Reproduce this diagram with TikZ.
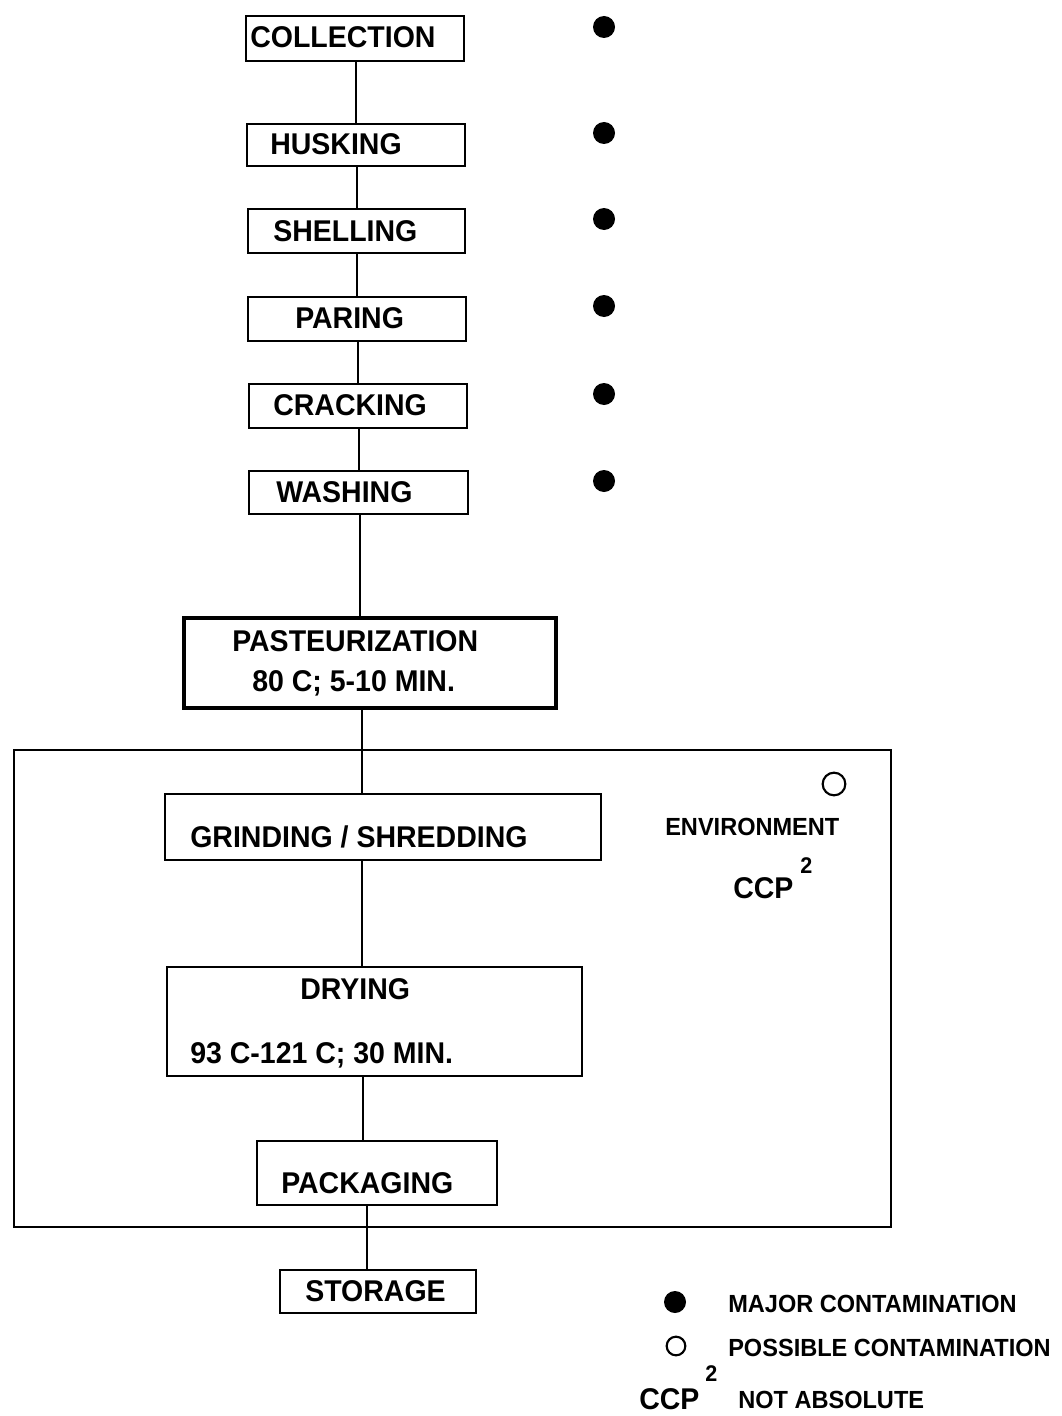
\documentclass[tikz,border=0pt]{standalone}
\usepackage{fontspec}
\setmainfont{Liberation Sans}[FakeStretch=0.95]
\begin{document}
\begin{tikzpicture}[x=0.75pt,y=-0.75pt,
  box/.style={draw, rectangle, line width=2pt, inner sep=0pt},
  conn/.style={line width=2pt},
  txt/.style={anchor=base west, inner sep=0pt, font=\fontsize{22.5}{24}\selectfont\bfseries},
  small/.style={anchor=base west, inner sep=0pt, font=\fontsize{18.6}{20}\selectfont\bfseries},
  sup/.style={anchor=base west, inner sep=0pt, font=\fontsize{17}{19}\selectfont\bfseries},
  dot/.style={circle, fill=black, draw=none, minimum size=16.5pt, inner sep=0pt},
  odot/.style={circle, draw=black, line width=1.6pt, fill=white, inner sep=0pt}]
\useasboundingbox (0,0) rectangle (1062,1416);
\fill[white] (0,0) rectangle (1062,1416);

% environment box
\node[box, line width=1.6pt, minimum width=657.75pt, minimum height=357.75pt] (env) at (452.5,988.5) {};

% process boxes
\node[box, minimum width=163.5pt, minimum height=33.75pt] (collection) at (355,38.5) {};
\node[box, minimum width=163.5pt, minimum height=31.5pt] (husking) at (356,145) {};
\node[box, minimum width=162.75pt, minimum height=33pt] (shelling) at (356.5,231) {};
\node[box, minimum width=163.5pt, minimum height=33pt] (paring) at (357,319) {};
\node[box, minimum width=163.5pt, minimum height=33pt] (cracking) at (358,406) {};
\node[box, minimum width=164.25pt, minimum height=32.25pt] (washing) at (358.5,492.5) {};
\node[box, line width=3.2pt, minimum width=279pt, minimum height=67.5pt] (pasteur) at (370,663) {};
\node[box, minimum width=327pt, minimum height=49.5pt] (grinding) at (383,827) {};
\node[box, minimum width=311.25pt, minimum height=81.75pt] (drying) at (374.5,1021.5) {};
\node[box, minimum width=180pt, minimum height=48pt] (packaging) at (377,1173) {};
\node[box, minimum width=147pt, minimum height=32.25pt] (storage) at (378,1291.5) {};

% connector x positions
\coordinate (x1) at (356,0);
\coordinate (x2) at (357,0);
\coordinate (x3) at (357,0);
\coordinate (x4) at (358,0);
\coordinate (x5) at (359,0);
\coordinate (x6) at (360,0);
\coordinate (x7) at (362,0);
\coordinate (x8) at (362,0);
\coordinate (x9) at (363,0);
\coordinate (x10) at (367,0);

\draw[conn] (collection.south -| x1) -- (husking.north -| x1);
\draw[conn] (husking.south -| x2) -- (shelling.north -| x2);
\draw[conn] (shelling.south -| x3) -- (paring.north -| x3);
\draw[conn] (paring.south -| x4) -- (cracking.north -| x4);
\draw[conn] (cracking.south -| x5) -- (washing.north -| x5);
\draw[conn] (washing.south -| x6) -- (pasteur.north -| x6);
\draw[conn] (pasteur.south -| x7) -- (grinding.north -| x7);
\draw[conn] (grinding.south -| x8) -- (drying.north -| x8);
\draw[conn] (drying.south -| x9) -- (packaging.north -| x9);
\draw[conn] (packaging.south -| x10) -- (storage.north -| x10);

% labels
\node[txt] (tcol) at (250,48) {COLLECTION};
\node[txt] (thus) at (270,155) {HUSKING};
\node[txt] (tshe) at (273,241) {SHELLING};
\node[txt] (tpar) at (295,328) {PARING};
\node[txt] (tcra) at (273,415) {CRACKING};
\node[txt] (twas) at (276,502) {WASHING};
\node[txt] (tpas1) at (232,651) {PASTEURIZATION};
\node[txt] (tpas2) at (252,691) {80 C; 5-10 MIN.};
\node[txt] (tgri) at (190,847) {GRINDING / SHREDDING};
\node[txt] (tdry1) at (300,999) {DRYING};
\node[txt] (tdry2) at (190,1063) {93 C-121 C; 30 MIN.};
\node[txt] (tpac) at (281,1193) {PACKAGING};
\node[txt] (tsto) at (305,1301) {STORAGE};

% contamination markers
\node[dot] (d1) at (604,27) {};
\node[dot] (d2) at (604,133) {};
\node[dot] (d3) at (604,219) {};
\node[dot] (d4) at (604,306) {};
\node[dot] (d5) at (604,394) {};
\node[dot] (d6) at (604,481) {};
\node[odot, minimum size=17pt] (o1) at (834,784) {};

\node[small] (tenv) at (665,835) {ENVIRONMENT};
\node[txt] (tccp) at (733,898) {CCP};
\node[sup] (tccp2) at (800,873) {2};

% legend
\node[dot] (ld1) at (675,1302) {};
\node[odot, minimum size=14pt] (lo1) at (676,1346) {};
\node[small] (lmaj) at (728,1312) {MAJOR CONTAMINATION};
\node[small] (lpos) at (728,1356) {POSSIBLE CONTAMINATION};
\node[txt] (lccp) at (639,1409) {CCP};
\node[sup] (lccp2) at (705,1381) {2};
\node[small] (lnot) at (738,1408) {NOT ABSOLUTE};
\end{tikzpicture}
\end{document}
